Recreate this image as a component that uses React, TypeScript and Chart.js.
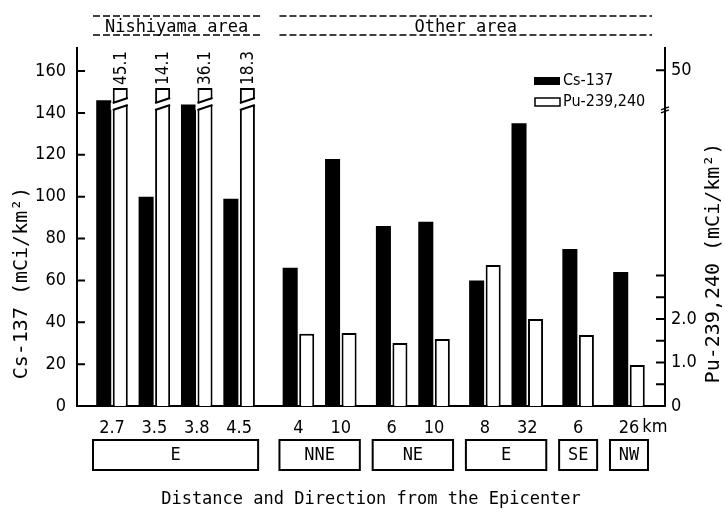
import React, { useEffect, useRef } from "react";
import { Chart, registerables } from "chart.js";

Chart.register(...registerables);

// ---------- data ----------
const distanceLabels = ["2.7", "3.5", "3.8", "4.5", "4", "10", "6", "10", "8", "32", "6", "26"];
const distanceUnit = "km";
const directionLabels = ["E", "NNE", "NE", "E", "SE", "NW"];
const directionSizes = [4, 2, 2, 2, 1, 1];
const areaLabels = ["Nishiyama area", "Other area"];
const areaDirectionCounts = [1, 5];
const csValues = [146, 100, 144, 99, 66, 118, 86, 88, 60, 135, 75, 64];
const puValues = [45.1, 14.1, 36.1, 18.3, 1.66, 1.68, 1.45, 1.54, 3.24, 2.0, 1.63, 0.94];
const csTicks = [0, 20, 40, 60, 80, 100, 120, 140, 160];
const puTicks = [0, 0.5, 1, 1.5, 2, 2.5, 3];
const puTickLabels: Record<string, string> = { "0": "0", "1": "1.0", "2": "2.0" };
const puTopLabel = "50";

// ---------- axis / layout constants ----------
const CS_MAX = 171;
const PU_MAX = 8.23;
const PU_TOP_TICK = 7.72; // where the "50" label sits above the break
const PU_BREAK = 6.83; // axis break position
const PU_CAP = 7.31; // drawn height of broken bars
const SAME_GROUP_STEP = 5;
const NEW_GROUP_STEP = 6;
const NEW_AREA_STEP = 7;
const X_EDGE_LEFT = 4.13;
const X_EDGE_RIGHT = 4.25;

const MONO = "'DejaVu Sans Mono', 'Liberation Mono', monospace";
const NARROW = "'Liberation Sans Narrow', 'DejaVu Sans Condensed', sans-serif";

// derived structure
const groupOf: number[] = [];
directionSizes.forEach((n, g) => {
  for (let k = 0; k < n; k++) groupOf.push(g);
});
const areaOfGroup: number[] = [];
areaDirectionCounts.forEach((n, a) => {
  for (let k = 0; k < n; k++) areaOfGroup.push(a);
});
const positions: number[] = [];
{
  let p = 0;
  groupOf.forEach((g, i) => {
    if (i > 0) {
      const pg = groupOf[i - 1];
      p += g === pg ? SAME_GROUP_STEP : areaOfGroup[g] === areaOfGroup[pg] ? NEW_GROUP_STEP : NEW_AREA_STEP;
    }
    positions.push(p);
  });
}

const decorPlugin = {
  id: "decor",
  afterDatasetsDraw(chart: any) {
    const ctx = chart.ctx as CanvasRenderingContext2D;
    const meta = chart.getDatasetMeta(1);
    ctx.save();
    meta.data.forEach((el: any, i: number) => {
      if (puValues[i] <= PU_CAP) return;
      const left = el.x - el.width / 2;
      const right = el.x + el.width / 2;
      const top = el.y;
      const a1 = top + 15, b1 = top + 10;
      const a2 = top + 22, b2 = top + 17;
      ctx.fillStyle = "#fff";
      ctx.beginPath();
      ctx.moveTo(left - 2, a1);
      ctx.lineTo(right + 2, b1);
      ctx.lineTo(right + 2, b2);
      ctx.lineTo(left - 2, a2);
      ctx.closePath();
      ctx.fill();
      ctx.strokeStyle = "#000";
      ctx.lineWidth = 2;
      ctx.beginPath();
      ctx.moveTo(left, a1);
      ctx.lineTo(right, b1);
      ctx.moveTo(left, a2);
      ctx.lineTo(right, b2);
      ctx.stroke();
      // value label
      ctx.save();
      ctx.translate(el.x + 1, top - 3);
      ctx.rotate(-Math.PI / 2);
      ctx.fillStyle = "#000";
      ctx.font = `17px ${NARROW}`;
      ctx.textAlign = "left";
      ctx.textBaseline = "middle";
      ctx.fillText(String(puValues[i]), 0, 0);
      ctx.restore();
    });
    ctx.restore();
  },
  afterDraw(chart: any) {
    const ctx = chart.ctx as CanvasRenderingContext2D;
    const xs = chart.scales.x;
    const ys = chart.scales.y;
    const y1 = chart.scales.y1;
    const area = chart.chartArea;
    ctx.save();
    ctx.strokeStyle = "#000";
    ctx.fillStyle = "#000";
    ctx.lineWidth = 2;

    // inward ticks
    ctx.beginPath();
    csTicks.forEach((v) => {
      const y = ys.getPixelForValue(v);
      ctx.moveTo(area.left, y);
      ctx.lineTo(area.left + 8, y);
    });
    [...puTicks, PU_TOP_TICK].forEach((v) => {
      const y = y1.getPixelForValue(v);
      ctx.moveTo(area.right, y);
      ctx.lineTo(area.right - 9, y);
    });
    ctx.stroke();

    // axis break marks
    const by = y1.getPixelForValue(PU_BREAK);
    ctx.lineWidth = 1.5;
    ctx.beginPath();
    ctx.moveTo(area.right - 4, by + 1);
    ctx.lineTo(area.right + 4, by - 2);
    ctx.moveTo(area.right - 4, by + 4);
    ctx.lineTo(area.right + 4, by + 1);
    ctx.stroke();

    // km unit
    const lastX = xs.getPixelForValue(positions[positions.length - 1]);
    ctx.font = `18px ${NARROW}`;
    const lw = ctx.measureText(distanceLabels[distanceLabels.length - 1]).width;
    ctx.textAlign = "left";
    ctx.textBaseline = "middle";
    ctx.fillText(distanceUnit, lastX + lw / 2 + 3, area.bottom + 21);

    // direction boxes
    ctx.lineWidth = 2;
    ctx.font = `17px ${MONO}`;
    ctx.textAlign = "center";
    let idx = 0;
    const groupRanges: [number, number][] = [];
    directionSizes.forEach((n, g) => {
      const x1 = xs.getPixelForValue(positions[idx]) - 19;
      const x2 = xs.getPixelForValue(positions[idx + n - 1]) + 19;
      groupRanges.push([x1, x2]);
      ctx.strokeRect(x1, area.bottom + 34, x2 - x1, 30);
      ctx.fillText(directionLabels[g], (x1 + x2) / 2, area.bottom + 50);
      idx += n;
    });

    // area headers
    let gidx = 0;
    areaDirectionCounts.forEach((n, a) => {
      const x1 = groupRanges[gidx][0];
      const x2 = groupRanges[gidx + n - 1][1] + (a === 1 ? 4 : 2);
      gidx += n;
      ctx.lineWidth = 1.5;
      ctx.setLineDash([7, 3]);
      ctx.beginPath();
      ctx.moveTo(x1, 16);
      ctx.lineTo(x2, 16);
      ctx.moveTo(x1, 35);
      ctx.lineTo(x2, 35);
      ctx.stroke();
      ctx.setLineDash([]);
      ctx.font = `17px ${MONO}`;
      ctx.textAlign = "center";
      ctx.textBaseline = "alphabetic";
      ctx.fillText(areaLabels[a], (x1 + x2) / 2, 32);
    });

    // legend
    const ds = chart.data.datasets;
    ctx.font = `16px ${NARROW}`;
    ctx.textAlign = "left";
    ctx.textBaseline = "middle";
    ctx.fillStyle = "#000";
    ctx.fillRect(534, 77, 26, 8);
    ctx.fillText(ds[0].label, 563, 81);
    ctx.fillStyle = "#fff";
    ctx.fillRect(535, 98, 25, 8);
    ctx.lineWidth = 1.5;
    ctx.strokeRect(535, 98, 25, 8);
    ctx.fillStyle = "#000";
    ctx.fillText(ds[1].label, 563, 102);

    // axis titles
    ctx.font = `20px ${MONO}`;
    ctx.textAlign = "center";
    ctx.textBaseline = "middle";
    ctx.save();
    ctx.translate(22, 283);
    ctx.rotate(-Math.PI / 2);
    ctx.fillText("Cs-137 (mCi/km\u00B2)", 0, 0);
    ctx.restore();
    ctx.save();
    ctx.translate(714, 263);
    ctx.rotate(-Math.PI / 2);
    ctx.fillText("Pu-239,240 (mCi/km\u00B2)", 0, 0);
    ctx.restore();

    ctx.restore();
  },
};

export default function App() {
  const ref = useRef<HTMLCanvasElement | null>(null);
  useEffect(() => {
    if (!ref.current) return;
    const chart = new Chart(ref.current, {
      type: "bar",
      data: {
        datasets: [
          {
            label: "Cs-137",
            data: positions.map((x, i) => ({ x, y: csValues[i] })),
            backgroundColor: "#000",
            borderWidth: 0,
            yAxisID: "y",
            categoryPercentage: 0.78,
            barPercentage: 0.91,
          },
          {
            label: "Pu-239,240",
            data: positions.map((x, i) => ({ x, y: Math.min(puValues[i], PU_CAP) })),
            backgroundColor: "#fff",
            borderColor: "#000",
            borderWidth: 2,
            yAxisID: "y1",
            categoryPercentage: 0.78,
            barPercentage: 0.91,
          },
        ] as any,
      },
      options: {
        animation: false,
        responsive: false,
        maintainAspectRatio: false,
        layout: { padding: { top: 48, left: 0, right: 0, bottom: 0 } },
        plugins: {
          legend: { display: false },
          tooltip: { enabled: false },
          title: { display: false },
        },
        scales: {
          x: {
            type: "linear",
            offset: false,
            min: positions[0] - X_EDGE_LEFT,
            max: positions[positions.length - 1] + X_EDGE_RIGHT,
            grid: { display: false, drawTicks: false, offset: false },
            border: { color: "#000", width: 2 },
            afterBuildTicks: (s: any) => {
              s.ticks = positions.map((v) => ({ value: v }));
            },
            afterFit: (s: any) => {
              s.height = 106;
            },
            ticks: {
              autoSkip: false,
              maxRotation: 0,
              padding: 12,
              color: "#000",
              font: { family: NARROW, size: 18 },
              callback: (_v: any, i: number) => distanceLabels[i],
            },
            title: {
              display: true,
              text: "Distance and Direction from the Epicenter",
              color: "#000",
              font: { family: MONO, size: 17 },
              padding: { top: 0, bottom: 2 },
            },
          },
          y: {
            position: "left",
            min: 0,
            max: CS_MAX,
            grid: { display: false, drawTicks: false },
            border: { color: "#000", width: 2 },
            afterBuildTicks: (s: any) => {
              s.ticks = csTicks.map((v) => ({ value: v }));
            },
            afterFit: (s: any) => {
              s.width = 77;
            },
            ticks: {
              padding: 11,
              color: "#000",
              font: { family: NARROW, size: 18 },
              callback: (v: any) => String(v),
            },
          },
          y1: {
            position: "right",
            min: 0,
            max: PU_MAX,
            grid: { display: false, drawTicks: false },
            border: { color: "#000", width: 2 },
            afterBuildTicks: (s: any) => {
              s.ticks = [...puTicks, PU_TOP_TICK].map((v) => ({ value: v }));
            },
            afterFit: (s: any) => {
              s.width = 60;
            },
            ticks: {
              padding: 6,
              color: "#000",
              font: { family: NARROW, size: 18 },
              callback: (v: any) => (v === PU_TOP_TICK ? puTopLabel : puTickLabels[String(v)] ?? ""),
            },
          },
        },
      } as any,
      plugins: [decorPlugin],
    });
    return () => chart.destroy();
  }, []);
  return (
    <div style={{ position: "fixed", left: 0, top: 0, width: 725, height: 512, background: "#fff" }}>
      <canvas ref={ref} width={725} height={512} style={{ display: "block" }} />
    </div>
  );
}
